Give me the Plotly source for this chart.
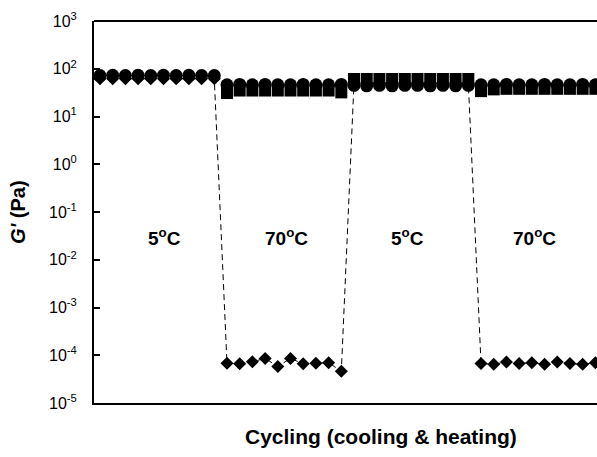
import plotly.graph_objects as go

# Measurement index along the cooling/heating cycles (10 readings per step)
step1 = list(range(0, 10))    # 5 °C
step2 = list(range(10, 20))   # 70 °C
step3 = list(range(20, 30))   # 5 °C
step4 = list(range(30, 40))   # 70 °C
x_all = step1 + step2 + step3 + step4

# G' (Pa) for the three samples
g_circle = ([72, 73, 72, 73, 72, 73, 72, 73, 72, 72] +
            [46, 47, 46, 47, 46, 46, 47, 46, 46, 47] +
            [45, 44, 45, 44, 45, 45, 44, 45, 44, 45] +
            [46, 46, 47, 46, 46, 47, 46, 46, 47, 46])
g_square = ([None] * 10 +
            [31, 35, 35, 35, 35, 35, 35, 35, 35, 32] +
            [61, 61, 61, 61, 61, 61, 61, 61, 61, 61] +
            [34, 37, 38, 38, 38, 38, 38, 38, 38, 38])
g_diamond = ([62, 62, 62, 62, 62, 62, 62, 62, 62, 62] +
             [6.8e-5, 6.6e-5, 7.3e-5, 8.6e-5, 5.8e-5, 8.6e-5, 6.6e-5, 6.8e-5, 7.0e-5, 4.6e-5] +
             [50, 50, 50, 50, 50, 50, 50, 50, 50, 50] +
             [6.7e-5, 6.5e-5, 7.2e-5, 6.7e-5, 7.0e-5, 6.5e-5, 7.2e-5, 6.7e-5, 6.5e-5, 7.0e-5])

phase_labels = ["5<sup>o</sup>C", "70<sup>o</sup>C", "5<sup>o</sup>C", "70<sup>o</sup>C"]
phase_label_x = [5.1, 14.7, 24.2, 34.2]

tick_exp = [3, 2, 1, 0, -1, -2, -3, -4, -5]
tick_vals = [10.0 ** e for e in tick_exp]
tick_text = ["10<sup>%d</sup>" % e for e in tick_exp]

FONT = "Liberation Sans, Arial, sans-serif"

fig = go.Figure()
fig.add_trace(go.Scatter(
    x=x_all, y=g_diamond, mode="lines+markers",
    line=dict(color="black", width=1, dash="6px,4px"),
    marker=dict(symbol="diamond", size=10, color="black"),
    showlegend=False))
fig.add_trace(go.Scatter(
    x=x_all, y=g_square, mode="markers",
    marker=dict(symbol="square", size=12, color="black"),
    showlegend=False))
fig.add_trace(go.Scatter(
    x=x_all, y=g_circle, mode="markers",
    marker=dict(symbol="circle", size=13, color="black"),
    showlegend=False))

for lab, lx in zip(phase_labels, phase_label_x):
    fig.add_annotation(x=lx, y=-1.52, xref="x", yref="y", text="<b>%s</b>" % lab,
                       showarrow=False, font=dict(family=FONT, size=19, color="black"))

fig.add_annotation(x=0.571, y=-0.089, xref="paper", yref="paper",
                   xanchor="center", yanchor="middle",
                   text="<b>Cycling (cooling &amp; heating)</b>", showarrow=False,
                   font=dict(family=FONT, size=21, color="black"))
fig.add_annotation(x=-0.151, y=0.5, xref="paper", yref="paper", textangle=-90,
                   xanchor="center", yanchor="middle",
                   text="<b><i>G'</i> (Pa)</b>", showarrow=False,
                   font=dict(family=FONT, size=20, color="black"))

# frame line along the top of the plotting area
fig.add_shape(type="line", xref="paper", yref="paper", x0=0, x1=1, y0=1, y1=1,
              line=dict(color="black", width=2))

fig.update_xaxes(range=[-0.47, 39.13], showline=True, linecolor="black", linewidth=2,
                 showticklabels=False, ticks="", showgrid=False, zeroline=False)
fig.update_yaxes(type="log", range=[-5, 3], showline=True, linecolor="black", linewidth=2,
                 tickvals=tick_vals, ticktext=tick_text, ticks="inside", ticklen=6,
                 tickcolor="black", tickwidth=1.5, ticklabelstandoff=12,
                 tickfont=dict(family=FONT, size=16, color="black"),
                 showgrid=False, zeroline=False)

fig.update_layout(width=597, height=457, margin=dict(l=94, r=0, t=21, b=54),
                  plot_bgcolor="white", paper_bgcolor="white")

fig.write_html("out.html")
